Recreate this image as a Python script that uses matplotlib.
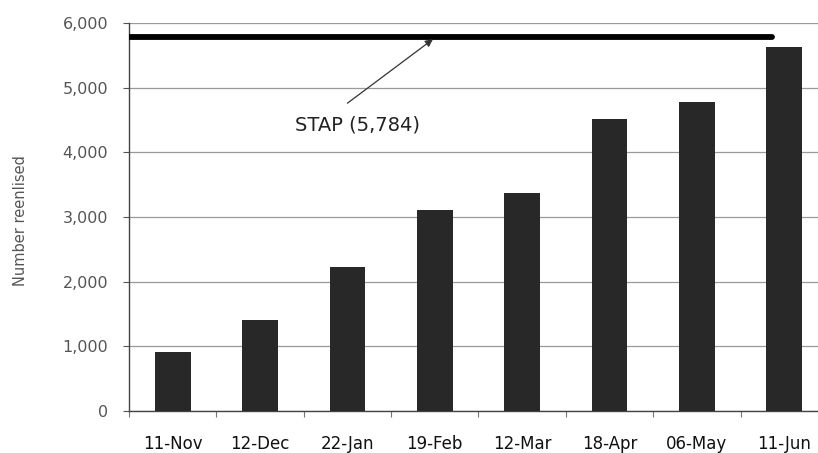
import matplotlib
matplotlib.use("Agg")
import matplotlib.pyplot as plt
import numpy as np

# Reenlistment counts by reporting date
dates = ["11-Nov", "12-Dec", "22-Jan", "19-Feb", "12-Mar", "18-Apr", "06-May", "11-Jun"]
reenlisted = [920, 1410, 2230, 3110, 3370, 4510, 4780, 5630]
stap_target = 5784
y_ticks = [0, 1000, 2000, 3000, 4000, 5000, 6000]

plt.rcParams["font.family"] = ["DejaVu Sans"]

fig = plt.figure(figsize=(8.18, 4.53), dpi=100)
ax = fig.add_axes([0.1577, 0.0927, 0.8545, 0.8565])

x = np.arange(len(dates))
ax.bar(x, reenlisted, width=0.41, color="#282828", zorder=3)

ax.set_xlim(-0.5, len(dates) - 0.5)
ax.set_ylim(0, 6000)

# Target line with callout
ax.plot([-0.5, 6.86], [stap_target, stap_target], color="black", lw=4.2,
        solid_capstyle="round", zorder=4)
ax.annotate("", xy=(2.978, stap_target - 35), xytext=(2.0, 4760),
            arrowprops=dict(arrowstyle="-|>", color="#333333", lw=0.9,
                            mutation_scale=11, shrinkA=0, shrinkB=0),
            zorder=5)
ax.text(2.12, 4420, f"STAP ({stap_target:,})", fontsize=14, color="#222222",
        ha="center", va="center", zorder=5)

# Grid and axes styling
ax.set_yticks(y_ticks)
ax.set_yticklabels([f"{v:,}" for v in y_ticks], color="#555555", fontsize=11.5)
ax.yaxis.grid(True, color="#9a9a9a", lw=0.9, zorder=0)
ax.tick_params(axis="y", length=4, width=0.8, color="#555555", pad=11)

ax.set_xticks(x)
ax.set_xticklabels(dates, fontsize=12, color="#111111")
ax.set_xticks(np.arange(-0.5, len(dates), 1), minor=True)
ax.tick_params(axis="x", which="major", length=0, pad=17)
ax.tick_params(axis="x", which="minor", length=4, width=0.8, color="#777777")

for side in ("top", "right"):
    ax.spines[side].set_visible(False)
for side in ("left", "bottom"):
    ax.spines[side].set_color("#444444")
    ax.spines[side].set_linewidth(1.0)

ax.set_ylabel("Number reenlised", fontsize=10.5, color="#555555")
ax.yaxis.set_label_coords(-0.1445, 0.49)

fig.savefig("out.png", dpi=100)
